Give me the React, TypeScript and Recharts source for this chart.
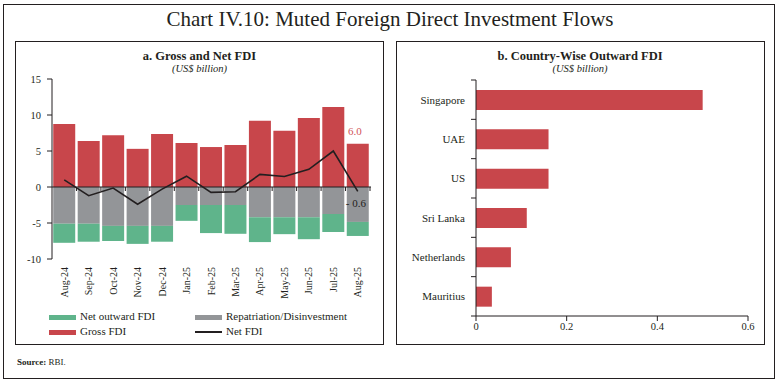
import React from "react";
import {
  ComposedChart,
  BarChart,
  Bar,
  Line,
  XAxis,
  YAxis,
  ReferenceLine,
  LabelList,
} from "recharts";

// panel a: monthly gross / net FDI (US$ billion)
const months = [
  "Aug-24", "Sep-24", "Oct-24", "Nov-24", "Dec-24", "Jan-25", "Feb-25",
  "Mar-25", "Apr-25", "May-25", "Jun-25", "Jul-25", "Aug-25",
];
const grossFdi = [8.75, 6.4, 7.2, 5.3, 7.35, 6.1, 5.55, 5.85, 9.2, 7.8, 9.6, 11.1, 6.0];
const repatriation = [-5.1, -5.1, -5.4, -5.4, -5.4, -2.5, -2.5, -2.5, -4.2, -4.2, -4.2, -3.75, -4.85];
const netOutward = [-2.65, -2.5, -2.1, -2.5, -2.2, -2.2, -3.9, -4.0, -3.45, -2.35, -3.05, -2.5, -1.95];
const netFdi = [1.0, -1.2, -0.15, -2.4, -0.3, 1.5, -0.75, -0.65, 1.75, 1.45, 2.45, 5.0, -0.6];
const leftTicks = [-10, -5, 0, 5, 10, 15];

// panel b: country-wise outward FDI (US$ billion)
const countries = ["Singapore", "UAE", "US", "Sri Lanka", "Netherlands", "Mauritius"];
const outwardFdi = [0.5, 0.16, 0.16, 0.112, 0.077, 0.035];
const rightTicks = [0, 0.2, 0.4, 0.6];

const FONT = "'Liberation Serif', 'DejaVu Serif', serif";
const INK = "#231f20";
const RED = "#c8464b";
const GREY = "#939598";
const GREEN = "#5fb48b";

const fdiData = months.map((m, i) => ({
  month: m,
  gross: grossFdi[i],
  repat: repatriation[i],
  outward: netOutward[i],
  net: netFdi[i],
}));

const countryData = countries.map((c, i) => ({ country: c, value: outwardFdi[i] }));

const MonthTick = (props: any) => {
  const { x, y, payload } = props;
  return (
    <g transform={`translate(${x},${y})`}>
      <text
        transform="rotate(-90)"
        x={0}
        y={0}
        dy="0.35em"
        textAnchor="end"
        fontSize={10}
        fontFamily={FONT}
        fill={INK}
      >
        {payload.value}
      </text>
    </g>
  );
};

// zero line with tick marks between the months
const ZeroAxis = (props: any) => {
  const { x1, x2, y1 } = props;
  if (x1 == null || x2 == null || y1 == null) return null;
  const step = (x2 - x1) / months.length;
  return (
    <g>
      <line x1={x1} x2={x2 + 1} y1={y1} y2={y1} stroke={INK} strokeWidth={1.2} />
      {months.map((_, i) => (
        <line
          key={i}
          x1={x1 + (i + 1) * step}
          x2={x1 + (i + 1) * step}
          y1={y1}
          y2={y1 + 4}
          stroke={INK}
          strokeWidth={1}
        />
      ))}
    </g>
  );
};

const CountryTick = (props: any) => {
  const { x, y, payload, index, height } = props;
  const band = typeof height === "number" && height > 0 ? height / countries.length : 39.3;
  const axisX = x + 11; // tickSize 5 + tickMargin 6
  return (
    <g>
      <text x={x} y={y} dy="0.35em" textAnchor="end" fontSize={11} fontFamily={FONT} fill={INK}>
        {payload.value}
      </text>
      <line x1={axisX - 5} x2={axisX} y1={y - band / 2} y2={y - band / 2} stroke={INK} />
      {index === countries.length - 1 && (
        <line x1={axisX - 5} x2={axisX} y1={y + band / 2} y2={y + band / 2} stroke={INK} />
      )}
    </g>
  );
};

const GrossLabel = (props: any) => {
  const { x, y, width, value, index } = props;
  if (index !== months.length - 1) return null;
  return (
    <text x={x + width / 2 - 3} y={y - 9} textAnchor="middle" fontSize={11} fontFamily={FONT} fill="#d2555a">
      {Number(value).toFixed(1)}
    </text>
  );
};

const NetLabel = (props: any) => {
  const { x, y, value, index } = props;
  if (index !== months.length - 1) return null;
  return (
    <text x={x - 12} y={y + 12} dy="0.35em" textAnchor="start" fontSize={11} fontFamily={FONT} fill={INK}>
      {`- ${Math.abs(Number(value)).toFixed(1)}`}
    </text>
  );
};

const box = (left: number, top: number, width: number, height: number, bw: number): React.CSSProperties => ({
  position: "absolute",
  left,
  top,
  width,
  height,
  border: `${bw}px solid ${INK}`,
  boxSizing: "border-box",
});

const text = (extra: React.CSSProperties): React.CSSProperties => ({
  position: "absolute",
  fontFamily: FONT,
  color: INK,
  whiteSpace: "nowrap",
  lineHeight: 1,
  ...extra,
});

const legendItems = [
  { label: "Net outward FDI", color: GREEN, kind: "bar", left: 49, top: 317 },
  { label: "Repatriation/Disinvestment", color: GREY, kind: "bar", left: 195, top: 317 },
  { label: "Gross FDI", color: RED, kind: "bar", left: 49, top: 332 },
  { label: "Net FDI", color: INK, kind: "line", left: 195, top: 332 },
];

export default function App() {
  return (
    <div style={{ position: "absolute", left: 0, top: 0, width: 780, height: 382, background: "#fff" }}>
      <div style={box(3, 4, 771.5, 375, 1.5)} />
      <div style={box(15, 40.5, 369, 304, 1)} />
      <div style={box(396, 40.5, 368.5, 304, 1)} />

      <div style={text({ left: 0, width: 780, top: 9, textAlign: "center", fontSize: 21 })}>
        Chart IV.10: Muted Foreign Direct Investment Flows
      </div>
      <div style={text({ left: 15, width: 369, top: 50, textAlign: "center", fontSize: 12.5, fontWeight: "bold" })}>
        a. Gross and Net FDI
      </div>
      <div style={text({ left: 15, width: 369, top: 64, textAlign: "center", fontSize: 10.5, fontStyle: "italic" })}>
        (US$ billion)
      </div>
      <div style={text({ left: 396, width: 368, top: 50, textAlign: "center", fontSize: 12.5, fontWeight: "bold" })}>
        b. Country-Wise Outward FDI
      </div>
      <div style={text({ left: 396, width: 368, top: 64, textAlign: "center", fontSize: 10.5, fontStyle: "italic" })}>
        (US$ billion)
      </div>
      <div style={text({ left: 17, top: 358, fontSize: 9 })}>
        <b>Source:</b> RBI.
      </div>

      <div style={{ position: "absolute", left: 0, top: 0 }}>
        <ComposedChart
          width={390}
          height={310}
          data={fdiData}
          margin={{ top: 79, right: 20, left: 0, bottom: 0 }}
          stackOffset="sign"
          barCategoryGap="5%"
        >
          <XAxis
            dataKey="month"
            interval={0}
            axisLine={false}
            tickLine={false}
            height={51}
            tick={<MonthTick />}
          />
          <YAxis
            type="number"
            domain={[-10, 15]}
            ticks={leftTicks}
            width={52}
            tickSize={5}
            tickMargin={6}
            axisLine={{ stroke: INK }}
            tickLine={{ stroke: INK }}
            tick={{ fontSize: 10.5, fontFamily: FONT, fill: INK }}
          />
          <Bar dataKey="repat" stackId="a" fill={GREY} isAnimationActive={false} />
          <Bar dataKey="outward" stackId="a" fill={GREEN} isAnimationActive={false} />
          <Bar dataKey="gross" stackId="a" fill={RED} isAnimationActive={false}>
            <LabelList dataKey="gross" content={<GrossLabel />} />
          </Bar>
          <ReferenceLine y={0} shape={<ZeroAxis />} />
          <Line
            type="linear"
            dataKey="net"
            stroke={INK}
            strokeWidth={1.6}
            dot={false}
            activeDot={false}
            isAnimationActive={false}
          >
            <LabelList dataKey="net" content={<NetLabel />} />
          </Line>
        </ComposedChart>
      </div>

      {legendItems.map((it) => (
        <div key={it.label}>
          {it.kind === "bar" ? (
            <div style={{ position: "absolute", left: it.left, top: it.top - 2.5, width: 27, height: 5, background: it.color }} />
          ) : (
            <div style={{ position: "absolute", left: it.left, top: it.top - 0.8, width: 27, height: 1.6, background: it.color }} />
          )}
          <div style={text({ left: it.left + 31, top: it.top - 6, fontSize: 11 })}>{it.label}</div>
        </div>
      ))}

      <div style={{ position: "absolute", left: 390, top: 0 }}>
        <BarChart
          layout="vertical"
          width={380}
          height={345}
          data={countryData}
          margin={{ top: 80, right: 22, left: 0, bottom: 4 }}
        >
          <XAxis
            type="number"
            domain={[0, 0.6]}
            ticks={rightTicks}
            height={25}
            tickSize={5}
            axisLine={{ stroke: INK }}
            tickLine={{ stroke: INK }}
            tick={{ fontSize: 10.5, fontFamily: FONT, fill: INK }}
          />
          <YAxis
            type="category"
            dataKey="country"
            width={86}
            tickSize={5}
            tickMargin={6}
            interval={0}
            axisLine={{ stroke: INK }}
            tickLine={false}
            tick={<CountryTick />}
          />
          <Bar dataKey="value" fill={RED} barSize={20} isAnimationActive={false} />
        </BarChart>
      </div>
    </div>
  );
}
